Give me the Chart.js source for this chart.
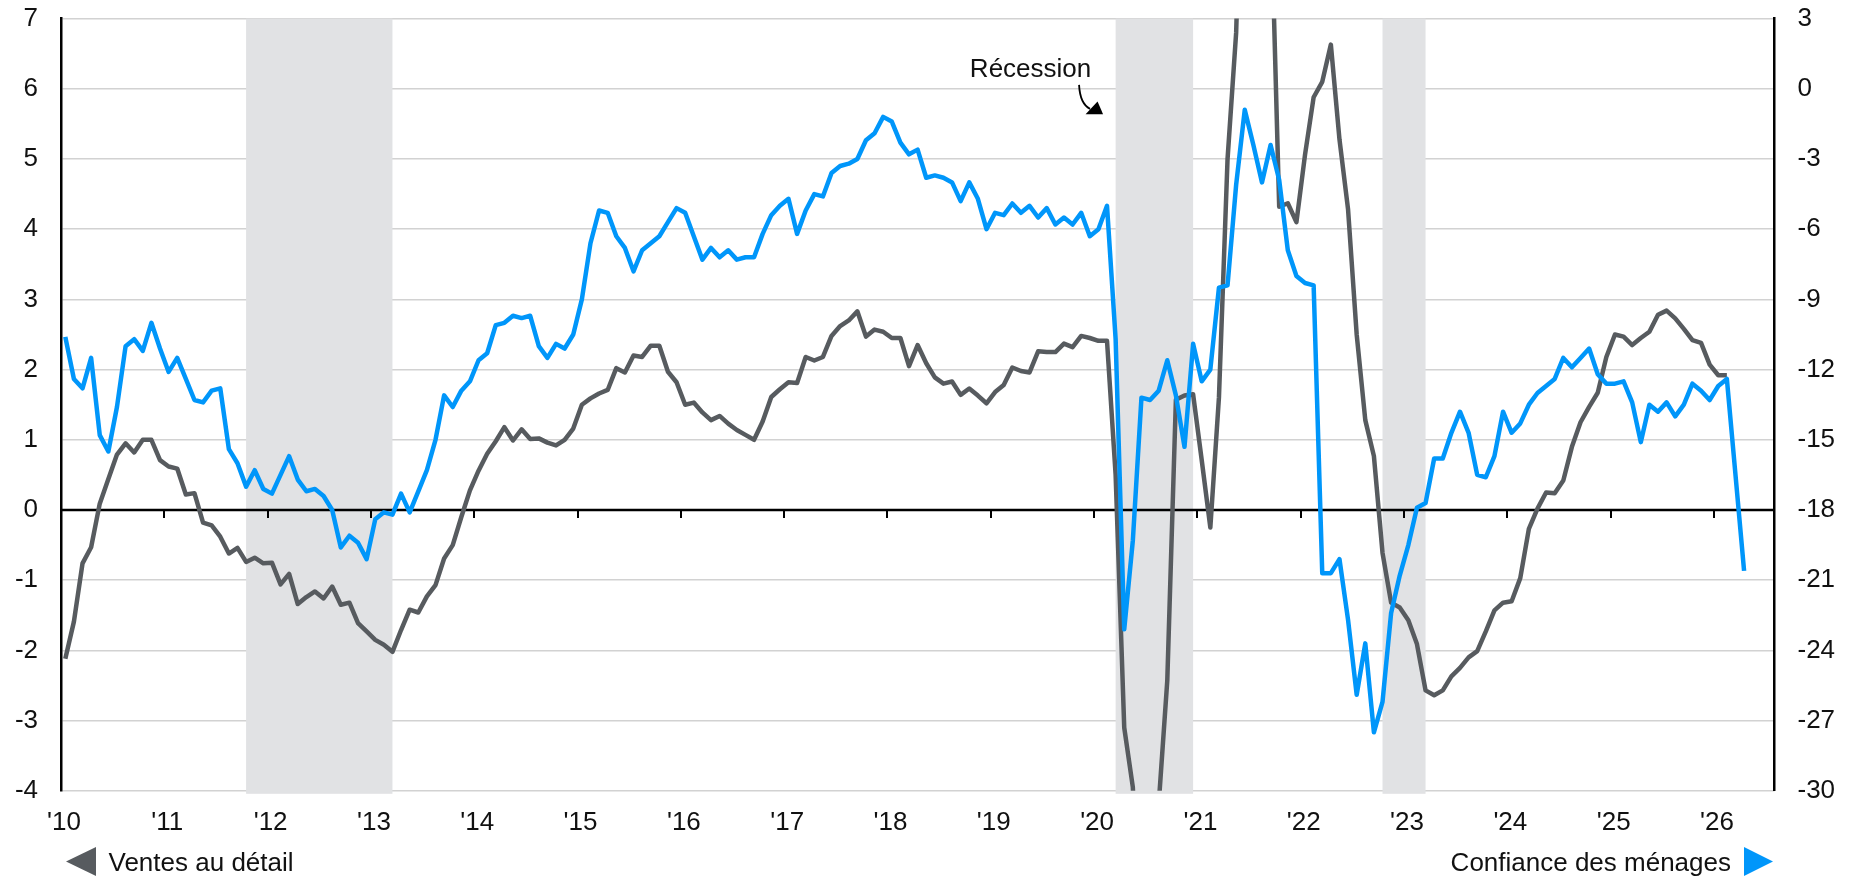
<!DOCTYPE html>
<html lang="fr">
<head>
<meta charset="UTF-8">
<title>Ventes au détail et confiance des ménages</title>
<script src="https://cdn.jsdelivr.net/npm/chart.js"></script>
<style>
  html, body { margin: 0; padding: 0; background: #fff; }
  #wrap { width: 1856px; height: 879px; }
</style>
</head>
<body>
<div id="wrap"><canvas id="chart" width="1856" height="879"></canvas></div>
<script>
// monthly data, first point = Jan 2010
const startYear = 2010;
const yearTicks = [2010, 2011, 2012, 2013, 2014, 2015, 2016, 2017, 2018, 2019, 2020, 2021, 2022, 2023, 2024, 2025, 2026];
const yearLabels = ["'10", "'11", "'12", "'13", "'14", "'15", "'16", "'17", "'18", "'19", "'20", "'21", "'22", "'23", "'24", "'25", "'26"];

// Ventes au détail (left axis)
const retailSales = [
  -2.12, -1.59, -0.76, -0.53, 0.09, 0.44, 0.79, 0.95, 0.82, 1.0, 1.0, 0.71,
  0.62, 0.59, 0.22, 0.24, -0.18, -0.22, -0.38, -0.62, -0.54, -0.74, -0.68, -0.76,
  -0.75, -1.06, -0.91, -1.34, -1.24, -1.16, -1.26, -1.09, -1.35, -1.32, -1.61, -1.73,
  -1.85, -1.92, -2.02, -1.71, -1.42, -1.46, -1.23, -1.07, -0.69, -0.50, -0.10, 0.28,
  0.56, 0.80, 0.98, 1.18, 0.99, 1.15, 1.01, 1.02, 0.96, 0.92, 1.0, 1.16,
  1.50, 1.59, 1.66, 1.71, 2.02, 1.96, 2.20, 2.18, 2.34, 2.34, 1.97, 1.82,
  1.50, 1.53, 1.39, 1.28, 1.34, 1.23, 1.14, 1.07, 1.00, 1.26, 1.61, 1.72,
  1.82, 1.81, 2.18, 2.13, 2.18, 2.48, 2.62, 2.70, 2.83, 2.47, 2.57, 2.54,
  2.45, 2.45, 2.05, 2.35, 2.09, 1.89, 1.80, 1.83, 1.64, 1.73, 1.63, 1.52,
  1.68, 1.78, 2.03, 1.98, 1.96, 2.26, 2.25, 2.25, 2.37, 2.32, 2.48, 2.45,
  2.41, 2.41, 0.50, -3.10, -3.95, -6.5, -7.0, -4.2, -2.43, 1.57, 1.63, 1.65,
  0.71, -0.25, 1.60, 5.00, 6.80, 11.0, 12.0, 11.0, 8.8, 4.32, 4.37, 4.10,
  5.06, 5.88, 6.10, 6.63, 5.28, 4.28, 2.50, 1.28, 0.77, -0.61, -1.32, -1.39,
  -1.57, -1.91, -2.57, -2.64, -2.57, -2.37, -2.25, -2.10, -2.01, -1.73, -1.43, -1.32,
  -1.30, -0.97, -0.27, 0.02, 0.25, 0.24, 0.42, 0.90, 1.25, 1.47, 1.67, 2.18,
  2.50, 2.47, 2.35, 2.45, 2.54, 2.78, 2.84, 2.73, 2.58, 2.42, 2.38, 2.07,
  1.92, 1.92
];

// Confiance des ménages (right axis)
const consumerConfidence = [
  -10.6, -12.4, -12.8, -11.5, -14.8, -15.5, -13.6, -11.0, -10.7, -11.2, -10.0, -11.1,
  -12.1, -11.5, -12.4, -13.3, -13.4, -12.9, -12.8, -15.4, -16.0, -17.0, -16.3, -17.1,
  -17.3, -16.5, -15.7, -16.7, -17.2, -17.1, -17.4, -18.0, -19.6, -19.1, -19.4, -20.1,
  -18.4, -18.1, -18.2, -17.3, -18.1, -17.2, -16.3, -15.0, -13.1, -13.6, -12.9, -12.5,
  -11.6, -11.3, -10.1, -10.0, -9.7, -9.8, -9.7, -11.0, -11.5, -10.9, -11.1, -10.5,
  -9.0, -6.6, -5.2, -5.3, -6.3, -6.8, -7.8, -6.9, -6.6, -6.3, -5.7, -5.1,
  -5.3, -6.3, -7.3, -6.8, -7.2, -6.9, -7.3, -7.2, -7.2, -6.2, -5.4, -5.0,
  -4.7, -6.2, -5.2, -4.5, -4.6, -3.6, -3.3, -3.2, -3.0, -2.2, -1.9, -1.2,
  -1.4, -2.3, -2.8, -2.6, -3.8, -3.7, -3.8, -4.0, -4.8, -4.0, -4.7, -6.0,
  -5.3, -5.4, -4.9, -5.3, -5.0, -5.5, -5.1, -5.8, -5.5, -5.8, -5.3, -6.3,
  -6.0, -5.0, -10.7, -23.1, -19.3, -13.2, -13.3, -12.9, -11.6, -13.1, -15.3, -10.9,
  -12.5, -12.0, -8.5, -8.4, -4.1, -0.9, -2.4, -4.0, -2.4, -3.9, -6.9, -8.0,
  -8.3, -8.4, -20.7, -20.7, -20.1, -22.7, -25.9, -23.7, -27.5, -26.2, -22.4, -20.8,
  -19.5, -17.9, -17.7, -15.8, -15.8, -14.7, -13.8, -14.7, -16.5, -16.6, -15.7, -13.8,
  -14.7, -14.3, -13.5, -13.0, -12.7, -12.4, -11.5, -11.9, -11.5, -11.1, -12.2, -12.6,
  -12.6, -12.5, -13.4, -15.1, -13.5, -13.8, -13.4, -14.0, -13.5, -12.6, -12.9, -13.3,
  -12.7, -12.4, -16.5, -20.6
];

// recession periods, as [first month, last month] indexes from Jan 2010
const recessions = [[21, 38], [122, 131], [153, 158]];

const FONT = "'Liberation Sans', Arial, sans-serif";
const GREY = '#575b5f';
const BLUE = '#0096fa';
const TEXT = '#111';

function monthX(i) { return startYear + (i + 0.5) / 12; }
function toPoints(values) { return values.map((v, i) => ({ x: monthX(i), y: v })); }

function noScalePadding(s) {
  s.paddingTop = 0;
  s.paddingBottom = 0;
  s.paddingLeft = 0;
  s.paddingRight = 0;
}

const decorations = {
  id: 'decorations',
  beforeDatasetsDraw(chart) {
    const { ctx, chartArea: a, scales } = chart;
    ctx.save();
    // recession bands
    ctx.fillStyle = '#e1e2e4';
    recessions.forEach(([s, e]) => {
      const x1 = scales.x.getPixelForValue(startYear + (s + 0.5) / 12);
      const x2 = scales.x.getPixelForValue(startYear + (e + 0.5) / 12);
      ctx.fillRect(x1, a.top, x2 - x1, a.bottom - a.top + 3);
    });
    // zero line with year ticks
    const y0 = scales.yL.getPixelForValue(0);
    ctx.strokeStyle = '#000';
    ctx.lineWidth = 2.5;
    ctx.beginPath();
    ctx.moveTo(a.left, y0);
    ctx.lineTo(a.right, y0);
    ctx.stroke();
    ctx.lineWidth = 2;
    yearTicks.slice(1).forEach(yr => {
      const x = Math.round(scales.x.getPixelForValue(yr));
      ctx.beginPath();
      ctx.moveTo(x, y0);
      ctx.lineTo(x, y0 + 8);
      ctx.stroke();
    });
    ctx.restore();
  },
  afterDraw(chart) {
    const { ctx, chartArea: a, scales } = chart;
    ctx.save();
    // "Récession" note
    const tx = scales.x.getPixelForValue(2019.385);
    const ty = scales.yL.getPixelForValue(6.17);
    ctx.font = '26px ' + FONT;
    ctx.fillStyle = TEXT;
    ctx.textAlign = 'center';
    ctx.textBaseline = 'alphabetic';
    ctx.fillText('Récession', tx, ty);
    ctx.strokeStyle = '#000';
    ctx.lineWidth = 1.8;
    ctx.beginPath();
    ctx.moveTo(tx + 48.5, ty + 8);
    ctx.quadraticCurveTo(tx + 49.5, ty + 27, tx + 59.5, ty + 32);
    ctx.stroke();
    ctx.fillStyle = '#000';
    ctx.beginPath();
    ctx.moveTo(tx + 55, ty + 37.3);
    ctx.lineTo(tx + 72.5, ty + 37.3);
    ctx.lineTo(tx + 67, ty + 24.7);
    ctx.closePath();
    ctx.fill();

    // legend below the axis
    const ly = 861.5;
    ctx.fillStyle = GREY;
    ctx.beginPath();
    ctx.moveTo(a.left + 5, ly);
    ctx.lineTo(a.left + 35, ly - 14.5);
    ctx.lineTo(a.left + 35, ly + 14.5);
    ctx.closePath();
    ctx.fill();
    ctx.fillStyle = TEXT;
    ctx.textAlign = 'left';
    ctx.fillText('Ventes au détail', a.left + 47.5, 871);

    ctx.fillStyle = BLUE;
    ctx.beginPath();
    ctx.moveTo(a.right - 1.5, ly);
    ctx.lineTo(a.right - 30.5, ly - 14.5);
    ctx.lineTo(a.right - 30.5, ly + 14.5);
    ctx.closePath();
    ctx.fill();
    ctx.fillStyle = TEXT;
    ctx.textAlign = 'right';
    ctx.fillText('Confiance des ménages', a.right - 43.5, 871);
    ctx.restore();
  }
};

new Chart(document.getElementById('chart'), {
  type: 'line',
  data: {
    datasets: [
      {
        label: 'Ventes au détail',
        data: toPoints(retailSales),
        yAxisID: 'yL',
        borderColor: GREY,
        borderWidth: 4.5,
        pointRadius: 0,
        tension: 0,
        borderJoinStyle: 'round',
        order: 1
      },
      {
        label: 'Confiance des ménages',
        data: toPoints(consumerConfidence),
        yAxisID: 'yR',
        borderColor: BLUE,
        borderWidth: 4.5,
        pointRadius: 0,
        tension: 0,
        borderJoinStyle: 'round',
        order: 0
      }
    ]
  },
  options: {
    responsive: false,
    animation: false,
    layout: { padding: { top: 18.6, left: 0, right: 0, bottom: 0 } },
    plugins: { legend: { display: false }, tooltip: { enabled: false } },
    scales: {
      x: {
        type: 'linear',
        min: startYear,
        max: 2026.586,
        grid: { display: false },
        border: { display: false },
        afterBuildTicks: s => { s.ticks = yearTicks.map(v => ({ value: v })); },
        afterFit: s => { s.height = 88.2; noScalePadding(s); },
        ticks: {
          font: { size: 26, family: FONT },
          color: TEXT,
          padding: 8,
          labelOffset: 3,
          maxRotation: 0,
          autoSkip: false,
          callback: v => yearLabels[yearTicks.indexOf(v)]
        }
      },
      yL: {
        position: 'left',
        min: -4,
        max: 7,
        afterFit: s => { s.width = 61; noScalePadding(s); },
        grid: {
          drawTicks: false,
          lineWidth: 1.5,
          color: c => c.tick && c.tick.value === 0 ? 'rgba(0,0,0,0)' : '#d2d2d2'
        },
        border: { display: true, color: '#000', width: 2.5 },
        ticks: { stepSize: 1, font: { size: 26, family: FONT }, color: TEXT, padding: 23 }
      },
      yR: {
        position: 'right',
        min: -30,
        max: 3,
        afterFit: s => { s.width = 1856 - 1774.5; noScalePadding(s); },
        grid: { display: false, drawTicks: false },
        border: { display: true, color: '#000', width: 2.5 },
        ticks: { stepSize: 3, font: { size: 26, family: FONT }, color: TEXT, padding: 23 }
      }
    }
  },
  plugins: [decorations]
});
</script>
</body>
</html>
